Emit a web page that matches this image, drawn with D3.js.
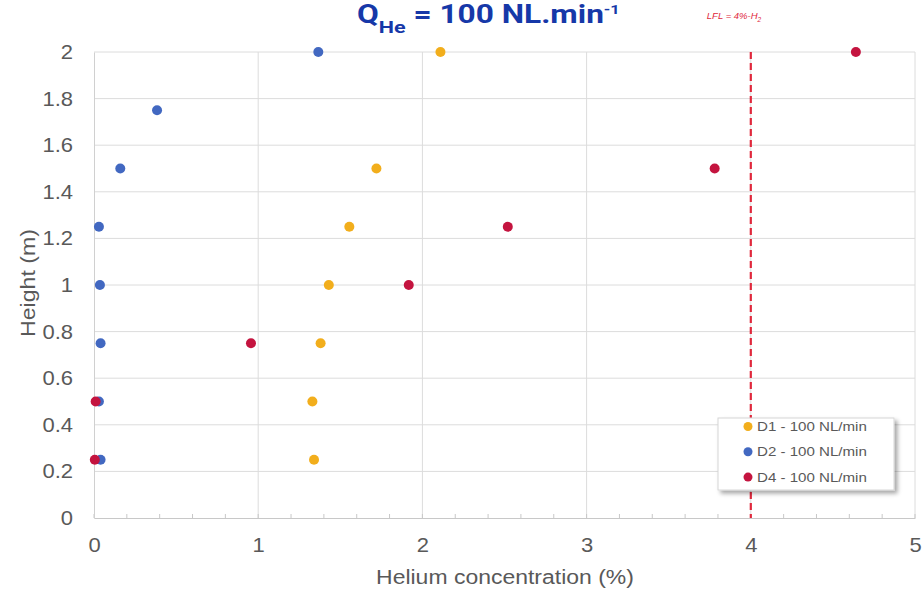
<!DOCTYPE html>
<html><head><meta charset="utf-8">
<script src="https://cdn.jsdelivr.net/npm/d3@7"></script>
<style>body{margin:0;background:#fff}svg{display:block}</style>
</head><body><svg id="c" width="922" height="589"></svg>
<script>
const d1Heights = [0.25, 0.5, 0.75, 1.0, 1.25, 1.5, 2.0];
const d1Values = [1.34, 1.33, 1.38, 1.43, 1.555, 1.72, 2.11];
const d2Heights = [0.25, 0.5, 0.75, 1.0, 1.25, 1.5, 1.75, 2.0];
const d2Values = [0.04, 0.03, 0.04, 0.036, 0.03, 0.16, 0.384, 1.366];
const d4Heights = [0.25, 0.5, 0.75, 1.0, 1.25, 1.5, 2.0];
const d4Values = [0.005, 0.01, 0.956, 1.917, 2.52, 3.78, 4.64];
const seriesNames = ["D1 - 100 NL/min", "D2 - 100 NL/min", "D4 - 100 NL/min"];
const seriesColors = ["#F2AE1C", "#4268C1", "#C4143F"];
const xTicks = [0, 1, 2, 3, 4, 5];
const yTicks = [0, 0.2, 0.4, 0.6, 0.8, 1, 1.2, 1.4, 1.6, 1.8, 2];
const lflValue = 4;

const svg = d3.select("#c");
const L = 94, R = 915, T = 52, B = 518;
const x = d3.scaleLinear().domain([0, 5]).range([L, R]);
const y = d3.scaleLinear().domain([0, 2]).range([B, T]);
const grey = "#595959", grid = "#dcdcdc";
const fontA = "'Liberation Sans', Arial, sans-serif";

function stretch(sel, sx, ax, ay) {
  sel.attr("transform", `translate(${ax},${ay}) scale(${sx},1) translate(${-ax},${-ay})`);
}

// gridlines
svg.append("g").selectAll("line").data(yTicks.filter(d => d > 0)).join("line")
  .attr("x1", L).attr("x2", R).attr("y1", d => y(d)).attr("y2", d => y(d))
  .attr("stroke", grid).attr("stroke-width", 1);
svg.append("g").selectAll("line").data(xTicks.filter(d => d > 0)).join("line")
  .attr("y1", T).attr("y2", B).attr("x1", d => x(d)).attr("x2", d => x(d))
  .attr("stroke", grid).attr("stroke-width", 1);

// axes
const xAxis = svg.append("g").attr("transform", `translate(0,${B})`)
  .call(d3.axisBottom(x).tickValues(xTicks).tickSize(0).tickPadding(20).tickFormat(d3.format("d")));
xAxis.select(".domain").attr("stroke", "#c8c8c8");
xAxis.selectAll("text").attr("fill", grey).style("font", `20px ${fontA}`)
  .attr("transform", "scale(1.1,1)");
const minor = d3.range(0, 5.001, 0.2);
svg.append("g").selectAll("line").data(minor).join("line")
  .attr("x1", d => x(d)).attr("x2", d => x(d)).attr("y1", B).attr("y2", B - 4)
  .attr("stroke", "#c8c8c8");

const yAxis = svg.append("g").attr("transform", `translate(${L},0)`)
  .call(d3.axisLeft(y).tickValues(yTicks).tickSize(0).tickPadding(0).tickFormat(d => d3.format("~g")(d)));
yAxis.select(".domain").attr("stroke", "#d0d0d0");
yAxis.selectAll("text").attr("fill", grey).style("font", `20px ${fontA}`)
  .attr("x", -19).attr("transform", "scale(1.1,1)");

// axis titles
const xt = svg.append("text").attr("x", 505).attr("y", 584).attr("text-anchor", "middle")
  .attr("fill", grey).style("font", `20px ${fontA}`).text("Helium concentration (%)");
stretch(xt, 258 / xt.node().getComputedTextLength(), 505, 584);
const yt = svg.append("text").attr("text-anchor", "middle")
  .attr("fill", grey).style("font", `19.5px ${fontA}`).text("Height (m)");
const ytl = yt.node().getComputedTextLength();
yt.attr("transform", `translate(35,283) rotate(-90) scale(${108 / ytl},1)`);

// LFL line
svg.append("line").attr("x1", x(lflValue)).attr("x2", x(lflValue)).attr("y1", T).attr("y2", B)
  .attr("stroke", "#E0283C").attr("stroke-width", 2.2).attr("stroke-dasharray", "7,4");
const lfl = svg.append("text").attr("x", 734).attr("y", 19).attr("text-anchor", "middle")
  .attr("fill", "#E0283C").style("font", `italic 9.5px ${fontA}`);
lfl.append("tspan").text("LFL = 4%-H");
lfl.append("tspan").attr("dy", 3).style("font-size", "6.5px").text("2");

// points
const series = [
  {h: d1Heights, v: d1Values},
  {h: d2Heights, v: d2Values},
  {h: d4Heights, v: d4Values}
];
series.forEach((s, i) => {
  svg.append("g").selectAll("circle").data(s.h.map((h, j) => [s.v[j], h])).join("circle")
    .attr("cx", d => x(d[0])).attr("cy", d => y(d[1])).attr("r", 5)
    .attr("fill", seriesColors[i]);
});

// title
const title = svg.append("text").attr("x", 357).attr("y", 23).attr("fill", "#1638A8")
  .style("font", "bold 25px Roboto, 'Liberation Sans', sans-serif");
title.append("tspan").text("Q");
title.append("tspan").attr("dy", 10).style("font-size", "17px").text("He");
title.append("tspan").attr("dy", -10).text(" = 100 NL.min");
title.append("tspan").attr("dy", -9).style("font-size", "13px").text("-1");
const tw = title.node().getBBox().width;
stretch(title, 263 / tw, 357, 23);

// legend
const defs = svg.append("defs");
const f = defs.append("filter").attr("id", "sh").attr("x", "-10%").attr("y", "-10%").attr("width", "130%").attr("height", "140%");
f.append("feDropShadow").attr("dx", 3).attr("dy", 3).attr("stdDeviation", 2).attr("flood-color", "#000").attr("flood-opacity", 0.35);
const lg = svg.append("g").attr("transform", "translate(718,418)");
lg.append("rect").attr("width", 176).attr("height", 72).attr("fill", "#fff").attr("stroke", "#d6d6d6").attr("filter", "url(#sh)");
seriesNames.forEach((n, i) => {
  const yy = 8.5 + i * 25.3;
  lg.append("circle").attr("cx", 30).attr("cy", yy).attr("r", 4.5).attr("fill", seriesColors[i]);
  const t = lg.append("text").attr("x", 39).attr("y", yy + 4.5).attr("fill", grey).style("font", `13px ${fontA}`).text(n);
  stretch(t, 110 / t.node().getComputedTextLength(), 39, yy + 4.5);
});
</script></body></html>
